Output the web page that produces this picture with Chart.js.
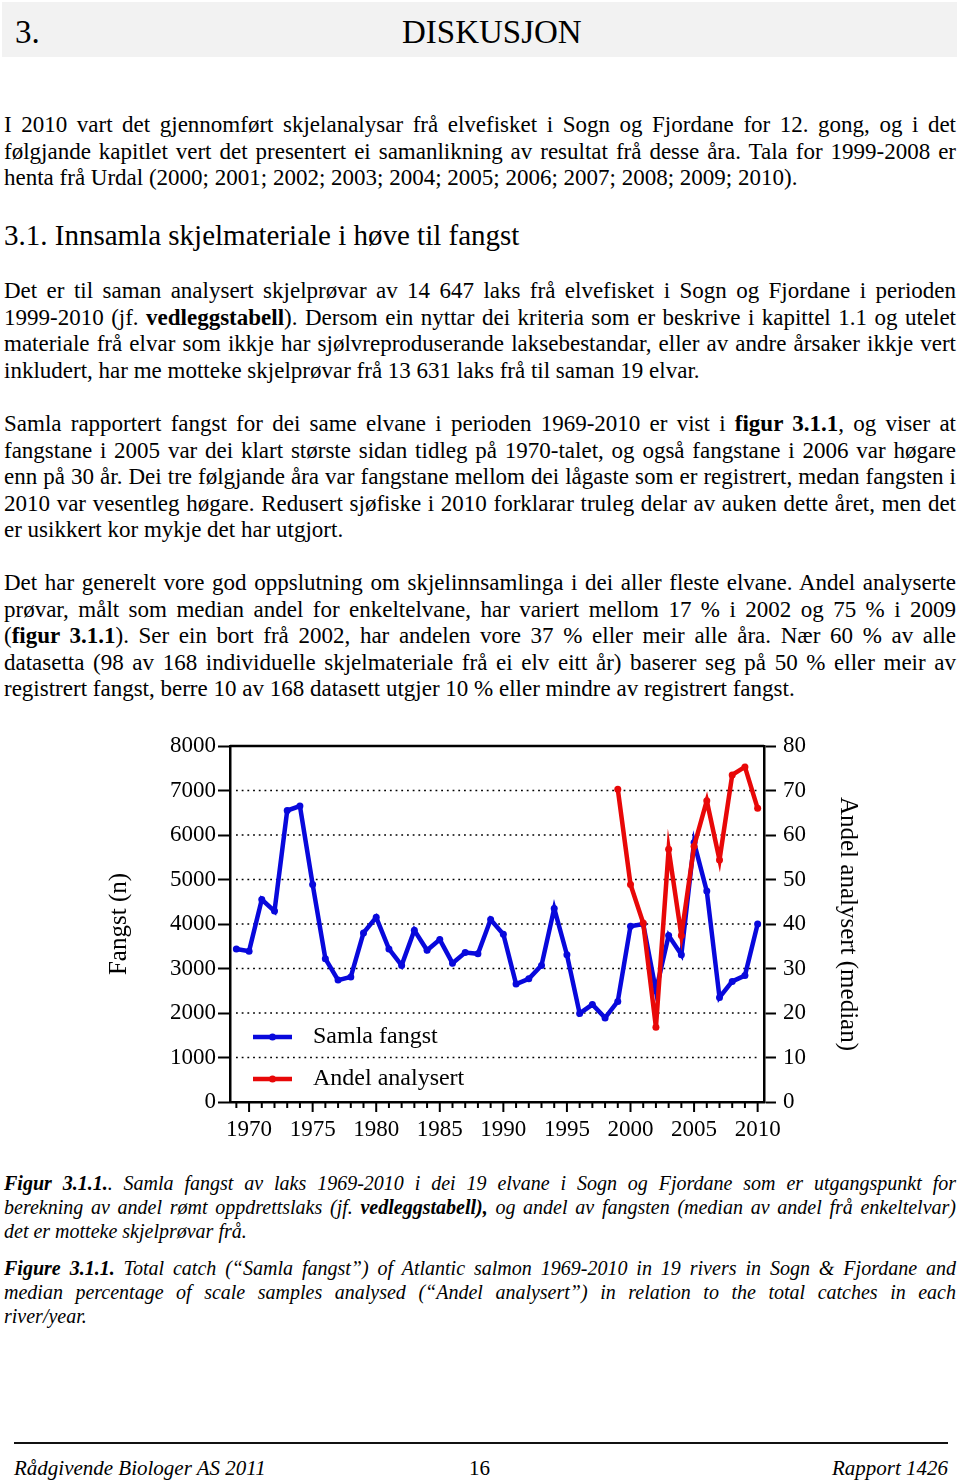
<!DOCTYPE html>
<html><head><meta charset="utf-8">
<script src="https://cdn.jsdelivr.net/npm/chart.js@4.4.0/dist/chart.umd.min.js"></script>
<style>
html,body{margin:0;padding:0;background:#fff;}
body{width:960px;height:1480px;position:relative;overflow:hidden;font-family:'Liberation Serif','Times New Roman',serif;color:#000;}
.band{position:absolute;left:2px;top:2px;width:955px;height:55px;background:#f2f2f2;}
.h1{position:absolute;font-size:33px;line-height:40px;top:12px;white-space:nowrap;}
.h2{position:absolute;left:4px;top:218px;font-size:29px;line-height:34px;white-space:nowrap;}
.ln{position:absolute;left:4px;width:952px;font-size:23px;line-height:26.5px;height:26.5px;white-space:nowrap;text-align:justify;text-align-last:justify;}
.ln.last{text-align:left;text-align-last:left;}
.cap{font-style:italic;font-size:20px;line-height:24px;height:24px;}
.rule{position:absolute;left:14px;top:1442px;width:934px;height:2px;background:#111;}
.foot{position:absolute;top:1456px;font-size:21px;line-height:24px;font-style:italic;white-space:nowrap;}
#chartBox{position:absolute;left:100px;top:730px;width:780px;height:420px;}
</style>
</head>
<body>
<div class="band"></div>
<div class="h1" style="left:15px;">3.</div>
<div class="h1" style="left:402px;">DISKUSJON</div>

<div class="ln" style="top:112px;">I 2010 vart det gjennomført skjelanalysar frå elvefisket i Sogn og Fjordane for 12. gong, og i det</div>
<div class="ln" style="top:138.5px;">følgjande kapitlet vert det presentert ei samanlikning av resultat frå desse åra. Tala for 1999-2008 er</div>
<div class="ln last" style="top:165px;">henta frå Urdal (2000; 2001; 2002; 2003; 2004; 2005; 2006; 2007; 2008; 2009; 2010).</div>

<div class="h2">3.1. Innsamla skjelmateriale i høve til fangst</div>

<div class="ln" style="top:278px;">Det er til saman analysert skjelprøvar av 14 647 laks frå elvefisket i Sogn og Fjordane i perioden</div>
<div class="ln" style="top:304.5px;">1999-2010 (jf. <b>vedleggstabell</b>). Dersom ein nyttar dei kriteria som er beskrive i kapittel 1.1 og utelet</div>
<div class="ln" style="top:331px;">materiale frå elvar som ikkje har sjølvreproduserande laksebestandar, eller av andre årsaker ikkje vert</div>
<div class="ln last" style="top:357.5px;">inkludert, har me motteke skjelprøvar frå 13 631 laks frå til saman 19 elvar.</div>

<div class="ln" style="top:411px;">Samla rapportert fangst for dei same elvane i perioden 1969-2010 er vist i <b>figur 3.1.1</b>, og viser at</div>
<div class="ln" style="top:437.5px;">fangstane i 2005 var dei klart største sidan tidleg på 1970-talet, og også fangstane i 2006 var høgare</div>
<div class="ln" style="top:464px;">enn på 30 år. Dei tre følgjande åra var fangstane mellom dei lågaste som er registrert, medan fangsten i</div>
<div class="ln" style="top:490.5px;">2010 var vesentleg høgare. Redusert sjøfiske i 2010 forklarar truleg delar av auken dette året, men det</div>
<div class="ln last" style="top:517px;">er usikkert kor mykje det har utgjort.</div>

<div class="ln" style="top:570px;">Det har generelt vore god oppslutning om skjelinnsamlinga i dei aller fleste elvane. Andel analyserte</div>
<div class="ln" style="top:596.5px;">prøvar, målt som median andel for enkeltelvane, har variert mellom 17 % i 2002 og 75 % i 2009</div>
<div class="ln" style="top:623px;">(<b>figur 3.1.1</b>). Ser ein bort frå 2002, har andelen vore 37 % eller meir alle åra. Nær 60 % av alle</div>
<div class="ln" style="top:649.5px;">datasetta (98 av 168 individuelle skjelmateriale frå ei elv eitt år) baserer seg på 50 % eller meir av</div>
<div class="ln last" style="top:676px;">registrert fangst, berre 10 av 168 datasett utgjer 10 % eller mindre av registrert fangst.</div>

<div id="chartBox"><canvas id="c" width="780" height="420"></canvas></div>

<div class="ln cap" style="top:1171px;"><b>Figur 3.1.1.</b>. Samla fangst av laks 1969-2010 i dei 19 elvane i Sogn og Fjordane som er utgangspunkt for</div>
<div class="ln cap" style="top:1195px;">berekning av andel rømt oppdrettslaks (jf. <b>vedleggstabell),</b> og andel av fangsten (median av andel frå enkeltelvar)</div>
<div class="ln cap last" style="top:1219px;">det er motteke skjelprøvar frå.</div>
<div class="ln cap" style="top:1256px;"><b>Figure 3.1.1.</b> Total catch (“Samla fangst”) of Atlantic salmon 1969-2010 in 19 rivers in Sogn &amp; Fjordane and</div>
<div class="ln cap" style="top:1280px;">median percentage of scale samples analysed (“Andel analysert”) in relation to the total catches in each</div>
<div class="ln cap last" style="top:1304px;">river/year.</div>

<div class="rule"></div>
<div class="foot" style="left:14px;">Rådgivende Biologer AS 2011</div>
<div class="foot" style="left:469px;font-style:normal;">16</div>
<div class="foot" style="right:12px;">Rapport 1426</div>

<script>
const years = [1969,1970,1971,1972,1973,1974,1975,1976,1977,1978,1979,1980,1981,1982,1983,1984,1985,1986,1987,1988,1989,1990,1991,1992,1993,1994,1995,1996,1997,1998,1999,2000,2001,2002,2003,2004,2005,2006,2007,2008,2009,2010];
const catchN = [3440,3390,4550,4290,6550,6650,4890,3220,2740,2810,3800,4150,3440,3070,3860,3410,3650,3120,3360,3330,4100,3770,2650,2770,3070,4350,3310,1990,2190,1890,2260,3950,4000,2500,3740,3310,5830,4740,2350,2710,2840,4000];
const andelYears = [1999,2000,2001,2002,2003,2004,2005,2006,2007,2008,2009,2010];
const andelPct = [70.3,48.9,40.2,16.8,56.8,37.4,57.5,67.7,54.4,73.5,75.3,66.0];
const leftTicks = [0,1000,2000,3000,4000,5000,6000,7000,8000];
const rightTicks = [0,10,20,30,40,50,60,70,80];
const xLabelYears = [1970,1975,1980,1985,1990,1995,2000,2005,2010];
const seriesNames = ['Samla fangst','Andel analysert'];
const axisTitles = ['Fangst (n)','Andel analysert (median)'];

const F = "'Liberation Serif','Times New Roman',serif";
const BLUE = '#0808dc';
const RED = '#e80808';

const deco = {
  id:'deco',
  beforeDatasetsDraw(chart){
    const {ctx, chartArea:a, scales} = chart;
    const y = scales.y, x = scales.x;
    ctx.save();
    ctx.strokeStyle = '#000';
    ctx.lineWidth = 1.6;
    ctx.setLineDash([1.8,3.9]);
    leftTicks.forEach(v=>{
      if (v<=0 || v>=8000) return;
      const py = y.getPixelForValue(v);
      ctx.beginPath(); ctx.moveTo(a.left+6, py); ctx.lineTo(a.right-4, py); ctx.stroke();
    });
    ctx.setLineDash([]);
    ctx.lineWidth = 2.5;
    ctx.beginPath(); ctx.moveTo(a.left, a.top); ctx.lineTo(a.right, a.top); ctx.stroke();
    ctx.lineWidth = 2;
    years.forEach(yr=>{
      const px = x.getPixelForValue(yr);
      const len = xLabelYears.includes(yr) ? 10 : 6;
      ctx.beginPath(); ctx.moveTo(px, a.bottom); ctx.lineTo(px, a.bottom+len); ctx.stroke();
    });
    ctx.restore();
  },
  afterDatasetsDraw(chart){
    const {ctx, chartArea:a} = chart;
    const ds = chart.data.datasets;
    const items = [[ds[1], a.top+291], [ds[0], a.top+333]];
    ctx.save();
    items.forEach(([d, yy])=>{
      const x0 = a.left+23, x1 = a.left+62;
      ctx.strokeStyle = d.borderColor; ctx.lineWidth = 4.5;
      ctx.beginPath(); ctx.moveTo(x0, yy); ctx.lineTo(x1, yy); ctx.stroke();
      ctx.fillStyle = d.borderColor;
      ctx.beginPath(); ctx.arc((x0+x1)/2, yy, 3.5, 0, Math.PI*2); ctx.fill();
      ctx.fillStyle = '#000';
      ctx.font = "24px " + F;
      ctx.textBaseline = 'middle'; ctx.textAlign = 'left';
      ctx.fillText(d.label, a.left+83, yy);
    });
    ctx.restore();
  }
};

new Chart(document.getElementById('c'), {
  type:'line',
  data:{
    datasets:[
      {label:seriesNames[1], data: andelYears.map((yr,i)=>({x:yr, y:andelPct[i]})), yAxisID:'y1', order:0,
       borderColor:RED, backgroundColor:RED, borderWidth:4.5, pointRadius:3.5, pointBorderWidth:0, pointBackgroundColor:RED, tension:0},
      {label:seriesNames[0], data: years.map((yr,i)=>({x:yr, y:catchN[i]})), yAxisID:'y', order:1,
       borderColor:BLUE, backgroundColor:BLUE, borderWidth:4.5, pointRadius:3.5, pointBorderWidth:0, pointBackgroundColor:BLUE, tension:0}
    ]
  },
  options:{
    responsive:false, animation:false, devicePixelRatio:1,
    layout:{padding:{top:16,left:0,right:0,bottom:0}},
    plugins:{legend:{display:false}, tooltip:{enabled:false}},
    scales:{
      x:{type:'linear', min:1968.5, max:2010.5,
        afterBuildTicks(s){ s.ticks = years.map(v=>({value:v})); },
        afterFit(s){ s.height = 48; s.paddingLeft = 0; s.paddingRight = 0; },
        grid:{display:false, drawTicks:false},
        border:{display:true, color:'#000', width:2.5},
        ticks:{autoSkip:false, maxRotation:0, minRotation:0, padding:14, color:'#000', font:{family:F, size:23},
          callback:(v)=> xLabelYears.includes(v) ? String(v) : ''}
      },
      y:{position:'left', min:0, max:8000,
        afterBuildTicks(s){ s.ticks = leftTicks.map(v=>({value:v})); },
        afterFit(s){ s.width = 130; s.paddingTop = 8; s.paddingBottom = 8; },
        grid:{display:true, drawOnChartArea:false, drawTicks:true, tickLength:12, tickWidth:2, tickColor:'#000'},
        border:{display:true, color:'#000', width:2.5},
        ticks:{padding:2, color:'#000', font:{family:F, size:23}, callback:(v)=>String(v)},
        title:{display:true, text:axisTitles[0], color:'#000', font:{family:F, size:25}, padding:{top:4, bottom:0}}
      },
      y1:{position:'right', min:0, max:80,
        afterBuildTicks(s){ s.ticks = rightTicks.map(v=>({value:v})); },
        afterFit(s){ s.width = 116; s.paddingTop = 8; s.paddingBottom = 8; },
        grid:{display:true, drawOnChartArea:false, drawTicks:true, tickLength:12, tickWidth:2, tickColor:'#000'},
        border:{display:true, color:'#000', width:2.5},
        ticks:{padding:7, color:'#000', font:{family:F, size:23}, callback:(v)=>String(v)},
        title:{display:true, text:axisTitles[1], color:'#000', font:{family:F, size:25}, padding:{top:17, bottom:0}}
      }
    }
  },
  plugins:[deco]
});
</script>
</body></html>
